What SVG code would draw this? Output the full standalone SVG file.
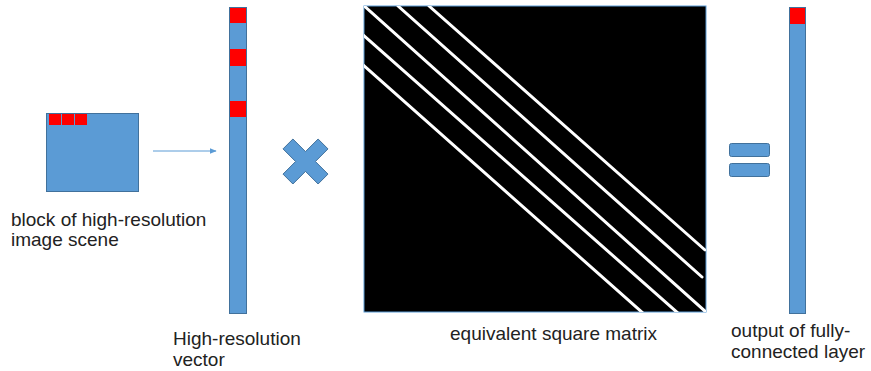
<svg xmlns="http://www.w3.org/2000/svg" width="871" height="371" viewBox="0 0 871 371">
  <style>
    .blue { fill: #5B9BD5; stroke: #41719C; stroke-width: 1; }
    .red { fill: #FF0000; stroke: none; }
    .lbl { font-family: "Liberation Sans", Arial, sans-serif; font-size: 19px; fill: #222222; }
    .diag { stroke: #FFFFFF; stroke-width: 3; stroke-linecap: round; fill: none; }
    .conn { stroke: #5B9BD5; stroke-width: 1; fill: none; }
  </style>
  <defs>
    <marker id="arrow" viewBox="0 0 10 10" refX="9" refY="5" markerWidth="7" markerHeight="7" markerUnits="userSpaceOnUse" orient="auto">
      <path d="M0,1 L10,5 L0,9 z" fill="#5B9BD5"/>
    </marker>
    <clipPath id="mclip">
      <rect x="364" y="6" width="342" height="306"/>
    </clipPath>
  </defs>
  <rect width="871" height="371" fill="#FFFFFF"/>

  <g id="image-block">
    <rect class="blue" x="46.5" y="113.5" width="92" height="78"/>
    <rect class="red" x="49" y="114" width="12" height="11"/>
    <rect class="red" x="62" y="114" width="12" height="11"/>
    <rect class="red" x="75" y="114" width="12" height="11"/>
    <text class="lbl" x="11" y="226">block of high-resolution</text>
    <text class="lbl" x="11" y="246">image scene</text>
  </g>

  <g id="connectors">
    <line class="conn" x1="153" y1="151" x2="216" y2="151" marker-end="url(#arrow)"/>
  </g>

  <g id="hr-vector">
    <rect class="blue" x="229.5" y="7.5" width="17" height="306"/>
    <rect class="red" x="230" y="8" width="16" height="15"/>
    <rect class="red" x="230" y="49" width="16" height="17"/>
    <rect class="red" x="230" y="101" width="16" height="16"/>
    <text class="lbl" x="173" y="345">High-resolution</text>
    <text class="lbl" x="173" y="366">vector</text>
  </g>

  <g id="times">
    <polygon class="blue" transform="translate(305.5,161.5)" points="22.5,12.6 12.6,22.5 0,9.9 -12.6,22.5 -22.5,12.6 -9.9,0 -22.5,-12.6 -12.6,-22.5 0,-9.9 12.6,-22.5 22.5,-12.6 9.9,0"/>
  </g>

  <g id="matrix">
    <rect x="364" y="6" width="342" height="306" fill="#000000" stroke="#5B9BD5" stroke-width="1"/>
    <g clip-path="url(#mclip)">
      <line class="diag" x1="429" y1="6" x2="705" y2="250"/>
      <line class="diag" x1="398" y1="6" x2="702" y2="277"/>
      <line class="diag" x1="362" y1="4" x2="707" y2="313"/>
      <line class="diag" x1="362" y1="34" x2="679" y2="314"/>
      <line class="diag" x1="362" y1="64" x2="644" y2="314"/>
    </g>
    <text class="lbl" x="450" y="340">equivalent square matrix</text>
  </g>

  <g id="equals">
    <rect class="blue" x="729.5" y="143.5" width="40" height="13" rx="2"/>
    <rect class="blue" x="729.5" y="163.5" width="40" height="13" rx="2"/>
  </g>

  <g id="output-vector">
    <rect class="blue" x="789.5" y="7.5" width="16" height="306"/>
    <rect class="red" x="790" y="8" width="15" height="16"/>
    <text class="lbl" x="731" y="337">output of fully-</text>
    <text class="lbl" x="731" y="358">connected layer</text>
  </g>
</svg>
